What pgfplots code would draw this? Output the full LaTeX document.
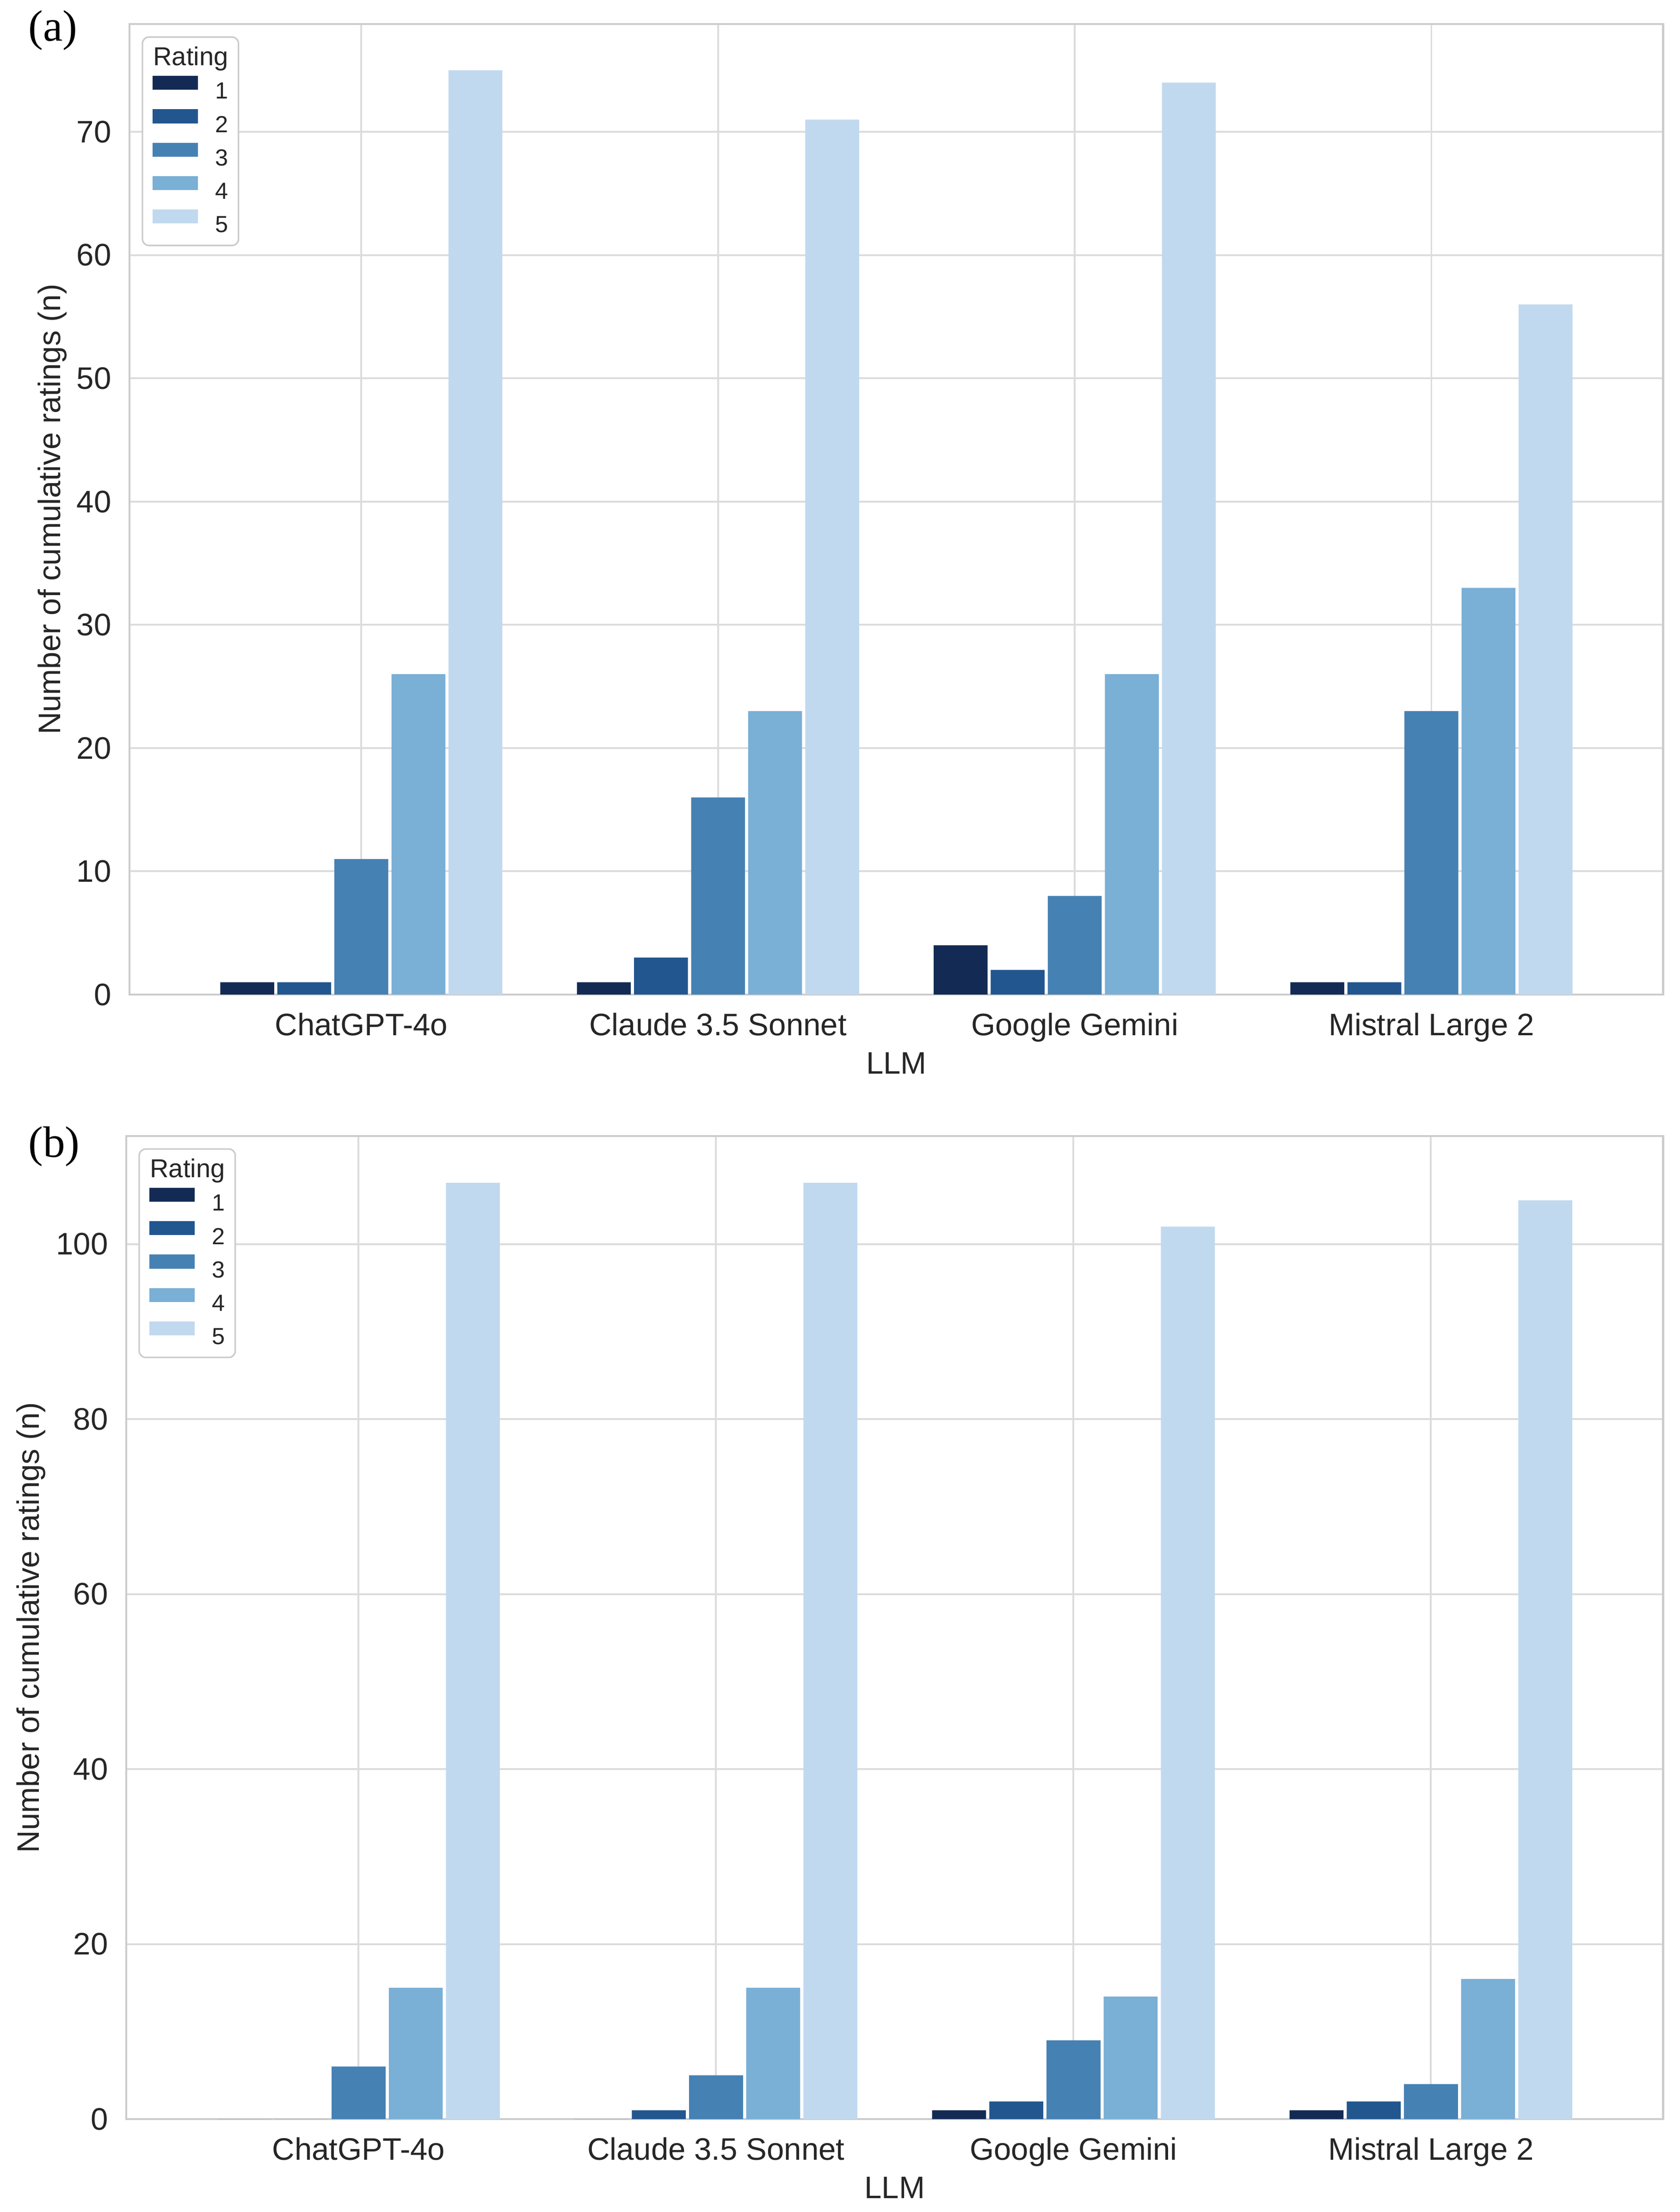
\documentclass[border=0pt]{standalone}
\usepackage{fontspec}
\setmainfont{Liberation Sans}
\newfontfamily\seriffont{Liberation Serif}
\usepackage{pgfplots}
\pgfplotsset{compat=1.18}
\usepackage{pgfplotstable}

\definecolor{c1}{RGB}{19,43,84}
\definecolor{c2}{RGB}{34,86,143}
\definecolor{c3}{RGB}{70,129,180}
\definecolor{c4}{RGB}{122,175,214}
\definecolor{c5}{RGB}{193,217,239}
\definecolor{gridc}{RGB}{220,220,220}
\definecolor{framec}{RGB}{204,204,204}
\definecolor{textc}{RGB}{38,38,38}

% Panel (a): ChatGPT-4o, Claude 3.5 Sonnet, Google Gemini, Mistral Large 2
\pgfplotstableread{
x r1 r2 r3 r4 r5
0 1 1 11 26 75
1 1 3 16 23 71
2 4 2 8 26 74
3 1 1 23 33 56
}\dataA
% Panel (b)
\pgfplotstableread{
x r1 r2 r3 r4 r5
0 0 0 6 15 107
1 0 1 5 15 107
2 1 2 9 14 102
3 1 2 4 16 105
}\dataB

\pgfplotsset{
  ratingbar/.style={ybar, bar width=0.151, draw=none, fill=#1,
    legend image code/.code={\fill[##1,draw=none,sharp corners] (0pt,0.5pt) rectangle (17.4pt,5.9pt);}},
  titleimage/.style={legend image code/.code={\path[draw=none,fill=none] (0pt,-3.7pt) -- (0pt,0pt);}},
  panel/.style={
    scale only axis,
    xmin=-0.65, xmax=3.65, ymin=0,
    xtick={0,1,2,3},
    xticklabels={ChatGPT-4o,Claude 3.5 Sonnet,Google Gemini,Mistral Large 2},
    major tick length=0pt,
    xmajorgrids, ymajorgrids,
    grid style={draw=gridc, line width=0.7pt},
    axis line style={draw=framec, line width=0.85pt},
    /pgf/number format/assume math mode=true,
    tick label style={font=\fontsize{12}{12}\selectfont, text=textc},
    xticklabel style={anchor=base, yshift=-15.8pt},
    yticklabel style={xshift=-3.5pt},
    label style={font=\fontsize{12}{12}\selectfont, text=textc},
    xlabel={LLM},
    ylabel={Number of cumulative ratings (n)},
    legend cell align=right,
    legend style={at={(axis description cs:0,1)}, anchor=north west,
      xshift=4.7pt, yshift=-4.7pt,
      draw=framec, line width=0.6pt, rounded corners=2.5pt, fill=white,
      inner xsep=4pt, inner ysep=3pt, row sep=2.0pt, column sep=6.7pt,
      nodes={inner sep=0pt, text height=8pt, text depth=2pt,
        font=\fontsize{9}{9}\selectfont, text=textc}},
  },
}

\begin{document}
\begin{tikzpicture}
\useasboundingbox (0,0) rectangle (648.75pt,-854.3pt);

\node[font=\seriffont\fontsize{17}{17}\selectfont] at (20.5pt,-11.8pt) {(a)};
\node[font=\seriffont\fontsize{17}{17}\selectfont] at (20.9pt,-442.7pt) {(b)};

\begin{axis}[panel,
  at={(50pt,-9.3pt)}, anchor=north west,
  width=592.3pt, height=374.8pt,
  ymax=78.75, ytick={0,10,...,70},
  xlabel style={at={(axis description cs:0.5,-0.0816)}, anchor=base},
  ylabel style={at={(axis description cs:-0.0503,0.5)}, anchor=center},
]
\addlegendimage{titleimage}
\addlegendentry{\fontsize{10}{10}\selectfont\hspace*{-24pt}Rating}
\addplot[ratingbar=c1, bar shift=-0.32] table[x=x,y=r1]{\dataA};
\addlegendentry{1}
\addplot[ratingbar=c2, bar shift=-0.16] table[x=x,y=r2]{\dataA};
\addlegendentry{2}
\addplot[ratingbar=c3, bar shift=0] table[x=x,y=r3]{\dataA};
\addlegendentry{3}
\addplot[ratingbar=c4, bar shift=0.16] table[x=x,y=r4]{\dataA};
\addlegendentry{4}
\addplot[ratingbar=c5, bar shift=0.32] table[x=x,y=r5]{\dataA};
\addlegendentry{5}
\end{axis}

\begin{axis}[panel,
  at={(48.75pt,-438.75pt)}, anchor=north west,
  width=593.55pt, height=379.65pt,
  ymax=112.35, ytick={0,20,...,100},
  xlabel style={at={(axis description cs:0.5,-0.0806)}, anchor=base},
  ylabel style={at={(axis description cs:-0.0619,0.5)}, anchor=center},
]
\addlegendimage{titleimage}
\addlegendentry{\fontsize{10}{10}\selectfont\hspace*{-24pt}Rating}
\addplot[ratingbar=c1, bar shift=-0.32] table[x=x,y=r1]{\dataB};
\addlegendentry{1}
\addplot[ratingbar=c2, bar shift=-0.16] table[x=x,y=r2]{\dataB};
\addlegendentry{2}
\addplot[ratingbar=c3, bar shift=0] table[x=x,y=r3]{\dataB};
\addlegendentry{3}
\addplot[ratingbar=c4, bar shift=0.16] table[x=x,y=r4]{\dataB};
\addlegendentry{4}
\addplot[ratingbar=c5, bar shift=0.32] table[x=x,y=r5]{\dataB};
\addlegendentry{5}
\end{axis}
\end{tikzpicture}
\end{document}
